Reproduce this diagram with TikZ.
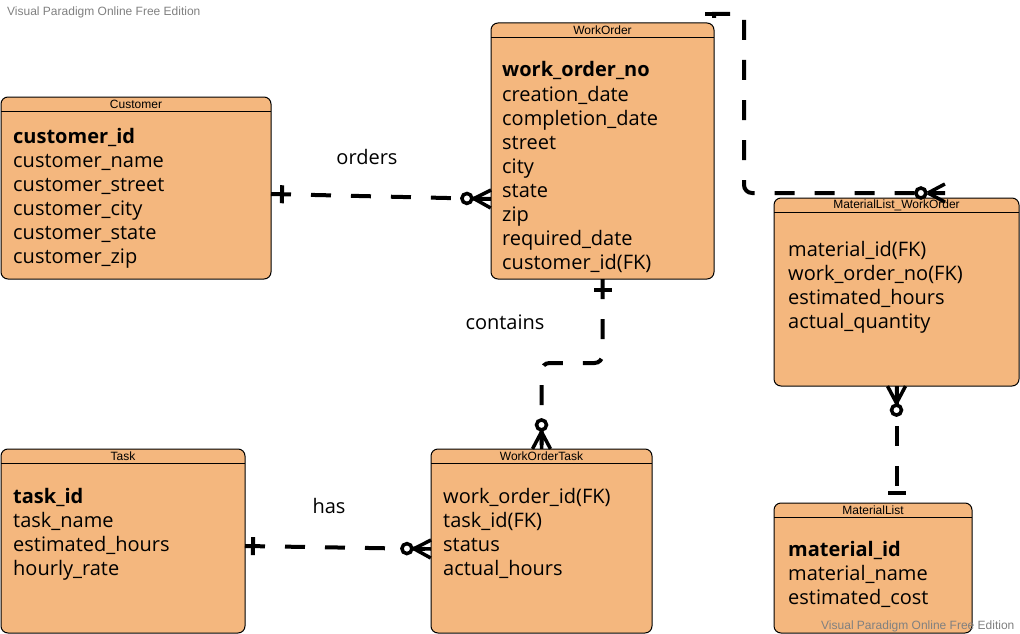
\documentclass[tikz,border=0pt]{standalone}
\usepackage{fontspec}
\setmainfont{Open Sans}
\newfontfamily\hdfont{Liberation Sans}
\usetikzlibrary{calc,decorations.markings}
\definecolor{entfill}{RGB}{244,183,126}
\definecolor{wmgray}{RGB}{128,128,128}
\tikzset{
  entity/.style={draw=black, line width=1pt, fill=entfill, rounded corners=7pt, anchor=north west, inner sep=0pt, outer sep=0pt},
  hdr/.style={font=\hdfont\fontsize{12}{14}\selectfont, inner sep=0pt},
  body/.style={font=\fontsize{20}{24}\selectfont, anchor=base west, inner sep=0pt},
  lbl/.style={font=\fontsize{20}{24}\selectfont, inner sep=0pt},
  wm/.style={font=\hdfont\fontsize{12}{14}\selectfont, text=wmgray, anchor=base west, inner sep=0pt},
  rel/.style={line width=4pt, dash pattern=on 20pt off 20pt},
  barstart/.style={postaction={decorate,decoration={markings,mark=at position #1 with {\draw[solid,line width=4pt] (0,-9) -- (0,9);}}}},
  barend/.style={postaction={decorate,decoration={markings,mark=at position -#1 with {\draw[solid,line width=4pt] (0,-9) -- (0,9);}}}},
  crowend/.style={postaction={decorate,decoration={markings,mark=at position -0.1pt with {\draw[solid,line width=3.5pt] (-17,0) -- (0,-9) (-17,0) -- (0,9) (-17,0) -- (0,0); \draw[solid,line width=3.5pt,fill=white] (-24,0) circle (5pt);}}}},
  crowstart/.style={postaction={decorate,decoration={markings,mark=at position 0.1pt with {\draw[solid,line width=3.5pt] (17,0) -- (0,-9) (17,0) -- (0,9) (17,0) -- (0,0); \draw[solid,line width=3.5pt,fill=white] (24,0) circle (5pt);}}}},
}
\newcommand\mkentity[6]{%
  \node[entity, minimum width=#4pt, minimum height=#5pt] (#1) at (#2,#3) {};
  \draw[line width=0.8pt] ([yshift=-14pt]#1.north west) -- ([yshift=-14pt]#1.north east);
  \node[hdr] (#1-title) at ([yshift=-7pt]#1.north) {#6};
}
\newcommand\mklines[4]{%
  \foreach \t [count=\i from 0] in {#4}
    \node[body] (#1-l\i) at ($(#1.north west)+(#2,#3+24*\i)$) {\t};
}
\begin{document}
\begin{tikzpicture}[x=1pt,y=-1pt]
\useasboundingbox (0,0) rectangle (1020,634);
% entities
\mkentity{cust}{1}{97}{270}{182}{Customer}
\mklines{cust}{12}{46}{\textbf{customer\_id},customer\_name,customer\_street,customer\_city,customer\_state,customer\_zip}
\mkentity{wo}{491}{23}{223}{256}{WorkOrder}
\mklines{wo}{11}{54}{\textbf{work\_order\_no},creation\_date,completion\_date,street,city,state,zip,required\_date,customer\_id(FK)}
\mkentity{mlwo}{774}{198}{245}{188}{MaterialList\_WorkOrder}
\mklines{mlwo}{14}{58}{material\_id(FK),work\_order\_no(FK),estimated\_hours,actual\_quantity}
\mkentity{task}{1}{449}{244}{184}{Task}
\mklines{task}{12}{54}{\textbf{task\_id},task\_name,estimated\_hours,hourly\_rate}
\mkentity{wot}{431}{449}{221}{184}{WorkOrderTask}
\mklines{wot}{12}{54}{work\_order\_id(FK),task\_id(FK),status,actual\_hours}
\mkentity{ml}{774}{503}{198}{130}{MaterialList}
\mklines{ml}{14}{53}{\textbf{material\_id},material\_name,estimated\_cost}
% connectors
\draw[rel, barstart=11pt, crowend] ($(cust.north east)+(0,97)$) -- ($(wo.north west)+(0,176)$);
\draw[rel, barstart=8pt, crowend] ($(task.north east)+(0,97)$) -- ($(wot.north west)+(0,100)$);
\draw[rel, rounded corners=8pt, barstart=11pt, crowend] (wo.south) -- ++(0,84) -| (wot.north);
\draw[rel, crowstart, barend=10pt] (mlwo.south) -- (mlwo.south |- ml.north);
\coordinate (c3end) at ($(mlwo.north west)+(171,-5)$);
\draw[rel, dash phase=35pt, barstart=8.5pt, crowend] (wo.north east) -- ++(0,-9) -- ++(30,0) [rounded corners=8pt] |- (c3end);
% labels
\node[lbl] (lorders) at (367,157) {orders};
\node[lbl] (lcontains) at (505,322) {contains};
\node[lbl] (lhas) at (329,506) {has};
% watermarks
\node[wm] (wm1) at (7,16) {Visual Paradigm Online Free Edition};
\node[wm] (wm2) at (821,629) {Visual Paradigm Online Free Edition};
\end{tikzpicture}
\end{document}
